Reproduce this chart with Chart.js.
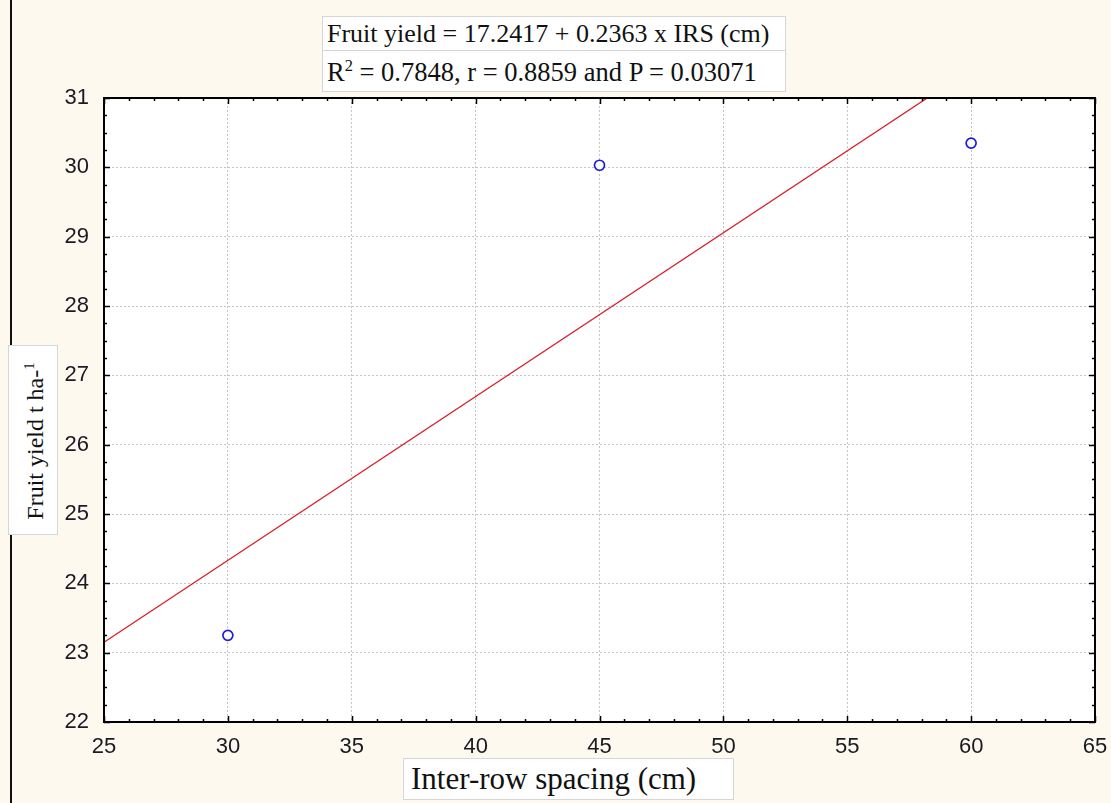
<!DOCTYPE html>
<html>
<head>
<meta charset="utf-8">
<script src="https://cdn.jsdelivr.net/npm/chart.js@4.4.1/dist/chart.umd.min.js"></script>
<style>
html, body { margin: 0; padding: 0; background: #fdf9ef; }
#wrap { position: relative; width: 1111px; height: 803px; overflow: hidden; background: #fdf9ef; }
#chart { position: absolute; left: 0; top: 0; }
#edge { position: absolute; left: 10px; top: 0; width: 2px; height: 803px; background: #111; }
.box {
    position: absolute; background: #fff; border: 1px solid #d6d6d6;
    font-family: "Liberation Serif", "Times New Roman", serif; color: #111;
    white-space: nowrap; box-sizing: border-box;
}
.box sup { font-size: 0.62em; vertical-align: 0.6em; line-height: 0; }
#eq1 { left: 322px; top: 16px; width: 464px; height: 35px; font-size: 26px; line-height: 34px; padding-left: 4px; }
#eq2 { left: 322px; top: 50px; width: 464px; height: 42px; font-size: 26.5px; line-height: 42px; padding-left: 4px; }
#ylab { left: 8px; top: 345px; width: 50px; height: 190px; }
#ylab span {
    position: absolute; left: 26px; top: 95px; font-size: 24px;
    transform: translate(-50%, -50%) rotate(-90deg);
}
#xlab { left: 403px; top: 758px; width: 331px; height: 42px; font-size: 31px; line-height: 40px; padding-left: 7px; }
</style>
</head>
<body>
<div id="wrap">
    <div id="edge"></div>
    <canvas id="chart" width="1111" height="803"></canvas>
    <div class="box" id="eq1">Fruit yield = 17.2417 + 0.2363 x IRS (cm)</div>
    <div class="box" id="eq2">R<sup>2</sup> = 0.7848, r = 0.8859 and P = 0.03071</div>
    <div class="box" id="ylab"><span>Fruit yield t ha-<sup>1</sup></span></div>
    <div class="box" id="xlab">Inter-row spacing (cm)</div>
</div>
<script>
// observed points
const spacingCm = [30, 45, 60];
const yieldTha = [23.25, 30.03, 30.35];

// fitted line end points (Fruit yield = 17.2417 + 0.2363 x IRS)
const fitSpacing = [25, 65];
const fitYield = [23.15, 32.60];

// axis ranges
const xRange = [25, 65];
const yRange = [22, 31];
const xMajorStep = 5, xMinorStep = 1;
const yMajorStep = 1, yMinorStep = 0.25;

const tickFont = { family: '"Liberation Sans", Arial, sans-serif', size: 22 };

// white plot area, black frame and inward ticks on all four sides
const plotFrame = {
    id: 'plotFrame',
    beforeDraw(chart) {
        const { ctx, chartArea: a } = chart;
        ctx.save();
        ctx.fillStyle = '#fff';
        ctx.fillRect(a.left, a.top, a.right - a.left, a.bottom - a.top);
        ctx.restore();
    },
    afterDraw(chart) {
        const { ctx, chartArea: a, scales: { x, y } } = chart;
        ctx.save();
        ctx.strokeStyle = '#000';
        ctx.lineWidth = 1.5;
        ctx.beginPath();
        const nx = Math.round((xRange[1] - xRange[0]) / xMinorStep);
        for (let i = 0; i <= nx; i++) {
            const v = xRange[0] + i * xMinorStep;
            const px = Math.round(x.getPixelForValue(v)) + 0.5;
            const len = i % (xMajorStep / xMinorStep) === 0 ? 6 : 3;
            ctx.moveTo(px, a.bottom); ctx.lineTo(px, a.bottom - len);
            ctx.moveTo(px, a.top); ctx.lineTo(px, a.top + len);
        }
        const ny = Math.round((yRange[1] - yRange[0]) / yMinorStep);
        for (let i = 0; i <= ny; i++) {
            const v = yRange[0] + i * yMinorStep;
            const py = Math.round(y.getPixelForValue(v)) + 0.5;
            const len = i % (yMajorStep / yMinorStep) === 0 ? 6 : 3;
            ctx.moveTo(a.left, py); ctx.lineTo(a.left + len, py);
            ctx.moveTo(a.right, py); ctx.lineTo(a.right - len, py);
        }
        ctx.stroke();
        ctx.lineWidth = 2;
        ctx.strokeRect(a.left, a.top, a.right - a.left, a.bottom - a.top);
        ctx.restore();
    }
};

new Chart(document.getElementById('chart'), {
    type: 'scatter',
    data: {
        datasets: [
            {
                type: 'line',
                label: 'Fit',
                data: fitSpacing.map((v, i) => ({ x: v, y: fitYield[i] })),
                borderColor: '#d8202c',
                borderWidth: 1.3,
                pointRadius: 0,
                fill: false,
                order: 2
            },
            {
                label: 'Fruit yield',
                data: spacingCm.map((v, i) => ({ x: v, y: yieldTha[i] })),
                borderColor: '#1c1ce0',
                backgroundColor: '#fff',
                borderWidth: 1.7,
                pointRadius: 5,
                pointStyle: 'circle',
                order: 1
            }
        ]
    },
    options: {
        responsive: false,
        animation: false,
        devicePixelRatio: 1,
        layout: { padding: { top: 98, right: 16, left: 0, bottom: 0 } },
        plugins: { legend: { display: false }, tooltip: { enabled: false } },
        scales: {
            x: {
                type: 'linear',
                min: xRange[0], max: xRange[1],
                afterFit: s => { s.height = 81; s.paddingLeft = 0; s.paddingRight = 0; },
                ticks: { stepSize: xMajorStep, padding: 12, font: tickFont, color: '#1a1a22' },
                grid: { color: '#c4c4c4', lineWidth: 1, drawTicks: false },
                border: { display: false, dash: [2, 2] }
            },
            y: {
                type: 'linear',
                min: yRange[0], max: yRange[1],
                afterFit: s => { s.width = 104; s.paddingTop = 0; s.paddingBottom = 0; },
                ticks: { stepSize: yMajorStep, padding: 15, font: tickFont, color: '#1a1a22' },
                grid: { color: '#c4c4c4', lineWidth: 1, drawTicks: false },
                border: { display: false, dash: [2, 2] }
            }
        }
    },
    plugins: [plotFrame]
});
</script>
</body>
</html>
